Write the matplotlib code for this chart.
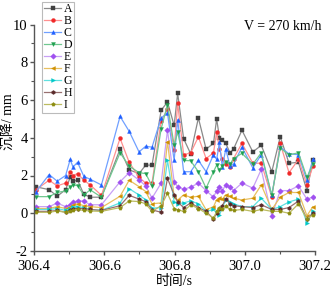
import matplotlib.pyplot as plt
from matplotlib.ticker import MultipleLocator

plt.rcParams['font.family'] = ['Liberation Serif', 'Noto Sans CJK SC']
plt.rcParams['axes.unicode_minus'] = False

# time points (s)
t = [306.406, 306.443, 306.466, 306.490, 306.503, 306.511, 306.524, 306.542, 306.560, 306.592,
     306.645, 306.671, 306.699, 306.718, 306.736, 306.762, 306.780, 306.799, 306.809, 306.826,
     306.846, 306.868, 306.890, 306.911, 306.920, 306.928, 306.936, 306.946, 306.958, 306.968,
     306.992, 307.023, 307.047, 307.077, 307.101, 307.126, 307.153, 307.177, 307.194]

# settlement (mm) for each measuring point
A = [1.40, 1.25, 0.90, 1.25, 1.90, 1.70, 1.75, 1.00, 0.85, 0.85,
     3.40, 2.30, 2.10, 2.55, 2.55, 5.45, 5.90, 4.65, 6.35, 3.95,
     3.15, 5.05, 3.40, 3.70, 5.00, 4.00, 3.90, 3.70, 3.20, 3.40,
     4.40, 3.25, 3.60, 2.20, 4.05, 2.65, 2.70, 1.20, 2.80]
B = [1.25, 1.75, 1.45, 1.60, 2.20, 2.00, 2.10, 1.75, 1.50, 0.95,
     3.97, 2.70, 1.90, 1.60, 1.60, 4.90, 5.50, 3.35, 5.83, 3.10,
     3.20, 4.05, 2.90, 3.20, 4.30, 3.40, 2.90, 2.60, 2.45, 2.90,
     3.70, 2.65, 2.65, 0.85, 3.70, 2.15, 2.85, 1.50, 2.50]
C = [1.15, 2.05, 1.70, 2.00, 2.85, 2.45, 2.70, 1.95, 1.80, 1.50,
     5.13, 4.34, 3.25, 3.55, 3.50, 5.05, 5.30, 2.80, 4.96, 2.20,
     2.20, 2.80, 2.20, 3.10, 2.85, 3.75, 2.45, 3.40, 2.50, 2.60,
     3.50, 2.40, 3.10, 0.95, 3.50, 3.15, 3.10, 1.75, 2.85]
D = [0.88, 0.88, 1.10, 1.18, 1.38, 1.50, 1.46, 0.97, 1.24, 0.85,
     3.20, 2.50, 2.15, 2.10, 1.45, 4.48, 5.75, 3.60, 4.30, 2.80,
     2.78, 2.20, 1.33, 2.20, 2.55, 2.30, 2.50, 2.73, 2.60, 2.90,
     3.17, 2.60, 3.20, 0.95, 3.45, 3.10, 3.20, 1.90, 2.60]
E = [0.35, 0.35, 0.54, 0.35, 0.45, 0.60, 0.65, 0.65, 0.45, 0.45,
     1.67, 2.15, 1.76, 1.45, 0.80, 1.60, 4.40, 1.67, 1.41, 1.27,
     1.38, 1.60, 1.20, 0.85, 1.20, 1.38, 1.20, 1.50, 1.38, 1.20,
     1.60, 1.33, 2.32, -0.13, 1.20, 1.20, 1.45, 0.75, 0.85]
F = [0.25, 0.25, 0.35, 0.25, 0.35, 0.45, 0.50, 0.40, 0.35, 0.30,
     0.90, 1.75, 1.41, 1.15, 0.50, 0.55, 3.80, 0.88, 0.70, 0.97,
     0.85, 0.90, 0.18, 0.35, 0.71, 0.80, 0.75, 0.97, 0.90, 0.80,
     0.70, 0.80, 1.50, 0.20, 0.85, 1.10, 1.10, -0.13, 0.35]
G = [0.20, 0.20, 0.25, 0.15, 0.25, 0.35, 0.35, 0.30, 0.20, 0.15,
     0.55, 1.30, 0.97, 0.71, 0.27, 0.30, 2.80, 0.62, 0.50, 0.55,
     0.65, 0.50, 0.10, 0.20, 0.00, -0.10, 0.30, 0.71, 0.60, 0.50,
     0.35, 0.35, 0.80, 0.20, 0.35, 0.60, 0.75, -0.50, 0.10]
H = [0.10, 0.10, 0.15, 0.05, 0.15, 0.25, 0.25, 0.25, 0.20, 0.15,
     0.40, 0.95, 0.75, 0.62, 0.18, 0.05, 1.85, 0.97, 0.60, 0.30,
     0.55, 0.30, 0.10, -0.30, 0.00, 0.20, 0.40, 0.75, 0.50, 0.40,
     0.35, 0.30, 0.45, 0.20, 0.20, 0.30, 0.65, -0.30, 0.00]
I = [0.05, 0.05, 0.12, 0.05, 0.10, 0.15, 0.20, 0.15, 0.12, 0.10,
     0.30, 0.65, 0.62, 0.50, 0.10, 0.40, 1.05, 0.25, 0.18, 0.10,
     0.45, 0.25, 0.00, -0.25, 0.10, 0.30, 0.20, 0.40, 0.20, 0.15,
     0.20, 0.10, 0.20, 0.10, 0.10, 0.00, 0.50, -0.30, -0.10]

names = ['A', 'B', 'C', 'D', 'E', 'F', 'G', 'H', 'I']
series = [A, B, C, D, E, F, G, H, I]
mark_colors = ['#404040', '#f02828', '#1f5fff', '#1fa050', '#a050f0',
               '#d09000', '#00c8c8', '#5a2a2a', '#8c8c10']
line_colors = ['#8a8a8a', '#ff9090', '#70a0ff', '#70c890', '#c8a0f5',
               '#e8c060', '#60e0e0', '#987070', '#bcbc60']
markers = ['s', 'o', '^', 'v', 'D', '<', '>', 'h', 'p']

fig = plt.figure(figsize=(3.3, 2.89), dpi=100)
ax = fig.add_axes([34/330, 1-251/289, 281/330, 226.5/289])

for name, y, mc, lc, m in zip(names, series, mark_colors, line_colors, markers):
    ax.plot(t, y, color=lc, linewidth=0.9, marker=m, markersize=2.8,
            markerfacecolor=mc, markeredgecolor=mc, markeredgewidth=0.3, label=name)

ax.set_xlim(306.4, 307.2)
ax.set_ylim(-2, 10)
ax.xaxis.set_major_locator(MultipleLocator(0.2))
ax.xaxis.set_minor_locator(MultipleLocator(0.1))
ax.yaxis.set_major_locator(MultipleLocator(2))
ax.yaxis.set_minor_locator(MultipleLocator(1))
ax.spines['top'].set_visible(False)
ax.spines['right'].set_visible(False)
for s in ['left', 'bottom']:
    ax.spines[s].set_linewidth(1.0)
    ax.spines[s].set_color('#555555')
ax.tick_params(which='major', direction='out', length=3, width=1, labelsize=10.5, pad=1.5,
               colors='#555555', labelcolor='black')
ax.tick_params(which='minor', direction='out', length=2, width=0.8, colors='#555555')
ax.tick_params(axis='x', which='major', pad=3.5)

fig.text(174/330, 1-281/289, '时间/s', fontsize=10, ha='center', va='center')
fig.text(8/330, 1-122/289, '沉降/ mm', fontsize=10, ha='center', va='center', rotation=90)

fig.text(322/330, 1-27/289, 'V = 270 km/h', fontsize=10, ha='right', va='center')

leg = ax.legend(loc='upper left', bbox_to_anchor=(42/330, 1-1.5/289), bbox_transform=fig.transFigure,
                fontsize=8.5, labelspacing=0.0, handlelength=1.5, handletextpad=0.2,
                borderpad=0.15, borderaxespad=0, fancybox=False, framealpha=1)
leg.get_frame().set_edgecolor('#bbbbbb')
leg.get_frame().set_linewidth(0.8)

fig.savefig('out.png', dpi=100)
